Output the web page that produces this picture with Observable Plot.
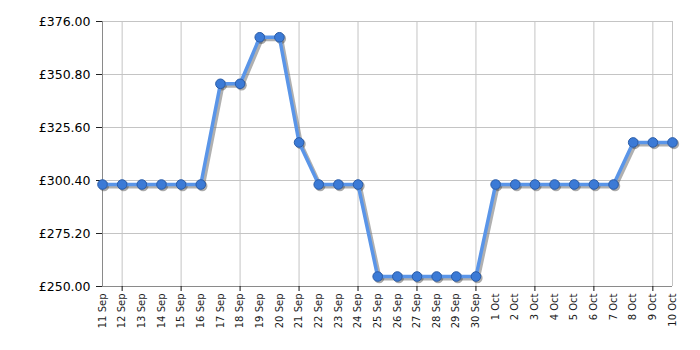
<!DOCTYPE html>
<html>
<head>
<meta charset="utf-8">
<script src="https://cdn.jsdelivr.net/npm/d3@7"></script>
<script src="https://cdn.jsdelivr.net/npm/@observablehq/plot@0.6"></script>
<style>
  html, body { margin: 0; padding: 0; background: #fff; }
  #chart svg { display: block; }
</style>
</head>
<body>
<div id="chart"></div>
<script>
const dates = ["11 Sep","12 Sep","13 Sep","14 Sep","15 Sep","16 Sep","17 Sep","18 Sep","19 Sep","20 Sep",
  "21 Sep","22 Sep","23 Sep","24 Sep","25 Sep","26 Sep","27 Sep","28 Sep","29 Sep","30 Sep",
  "1 Oct","2 Oct","3 Oct","4 Oct","5 Oct","6 Oct","7 Oct","8 Oct","9 Oct","10 Oct"];
const prices = [298.49,298.49,298.49,298.49,298.49,298.49,346.38,346.38,368.5,368.5,
  318.5,298.49,298.49,298.49,254.75,254.75,254.75,254.75,254.75,254.75,
  298.49,298.49,298.49,298.49,298.49,298.49,298.49,318.5,318.5,318.5];
const yTicks = [250, 275.2, 300.4, 325.6, 350.8, 376];
const xGridTicks = ["12 Sep","15 Sep","18 Sep","21 Sep","24 Sep","27 Sep","30 Sep","3 Oct","6 Oct","9 Oct"];

const data = dates.map((d, i) => ({i, date: d, price: prices[i]}));
const gridIdx = xGridTicks.map(d => dates.indexOf(d));
const last = dates.length - 1;

const chart = Plot.plot({
  width: 700,
  height: 350,
  marginLeft: 102,
  marginRight: 28,
  marginTop: 21,
  marginBottom: 64,
  style: {fontFamily: "'DejaVu Sans', Verdana, sans-serif", background: "#fff", color: "#000"},
  x: {type: "linear", domain: [0, last], axis: null},
  y: {domain: [250, 376], axis: null},
  marks: [
    Plot.gridY(yTicks, {stroke: "#c4c4c4", strokeOpacity: 1, strokeWidth: 1}),
    Plot.gridX(gridIdx, {stroke: "#c4c4c4", strokeOpacity: 1, strokeWidth: 1}),
    Plot.ruleX([last], {stroke: "#c4c4c4", strokeWidth: 1}),
    Plot.ruleX([0], {stroke: "#8a8a8a", strokeWidth: 1}),
    Plot.ruleY([250], {stroke: "#8a8a8a", strokeWidth: 1}),
    Plot.axisY({ticks: yTicks, tickFormat: d => "£" + d.toFixed(2), tickSize: 6, tickPadding: 6,
      fontSize: 12.5, stroke: "#222", fill: "#000", label: null}),
    Plot.axisX({ticks: gridIdx, tickSize: 5, tickFormat: () => "", stroke: "#111", label: null}),
    Plot.text(data, {x: "i", text: "date", frameAnchor: "bottom", rotate: -90, textAnchor: "end",
      lineAnchor: "middle", dy: 7, fontSize: 10, fill: "#1a1a1a"}),
    // shadow
    Plot.line(data, {x: "i", y: "price", stroke: "#6f6f6f", strokeOpacity: 0.55, strokeWidth: 4,
      dx: 2, dy: 2, strokeLinejoin: "round"}),
    Plot.dot(data, {x: "i", y: "price", r: 5.2, fill: "#444", fillOpacity: 0.45, dx: 1.5, dy: 1.5}),
    // main line
    Plot.line(data, {x: "i", y: "price", stroke: "#5a95e8", strokeWidth: 3.5, strokeLinejoin: "round"}),
    Plot.dot(data, {x: "i", y: "price", r: 4.8, fill: "#3b7ad6", stroke: "#2a5ca8", strokeWidth: 1})
  ]
});
document.getElementById("chart").appendChild(chart);
</script>
</body>
</html>
